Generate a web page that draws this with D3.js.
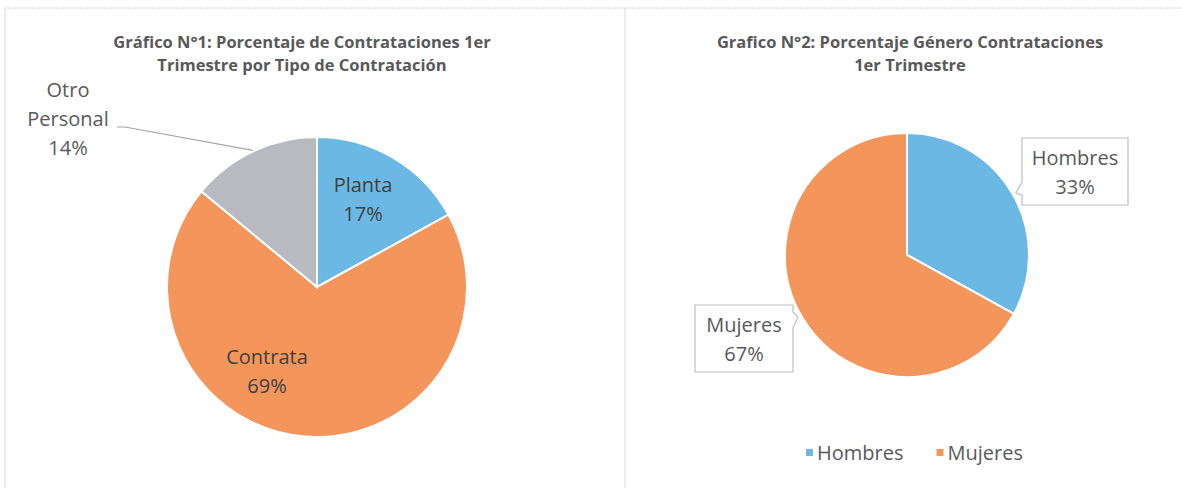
<!DOCTYPE html>
<html>
<head>
<meta charset="utf-8">
<script src="https://cdn.jsdelivr.net/npm/d3@7"></script>
<style>
  body { margin: 0; background: #fff; }
  svg { font-family: "Open Sans", "Noto Sans", sans-serif; }
</style>
</head>
<body>
<svg id="chart"></svg>
<script>
// Gráfico 1: tipo de contratación
const tipoCategorias = ["Planta", "Contrata", "Otro Personal"];
const tipoValores = [17, 69, 14];
const tipoColores = ["#6cb8e4", "#f4955c", "#b8b9c1"];

// Gráfico 2: género
const generoCategorias = ["Hombres", "Mujeres"];
const generoValores = [33, 67];
const generoColores = ["#6cb8e4", "#f4955c"];

const titulo1 = ["Gráfico N°1: Porcentaje de Contrataciones 1er", "Trimestre por Tipo de Contratación"];
const titulo2 = ["Grafico N°2: Porcentaje Género Contrataciones", "1er Trimestre"];

const W = 1182, H = 488;
const svg = d3.select("#chart").attr("width", W).attr("height", H);

// panel frames
svg.append("line").attr("x1", 5).attr("x2", W).attr("y1", 8).attr("y2", 8)
  .attr("stroke", "#d0d0d0").attr("stroke-width", 1).attr("stroke-dasharray", "2,1");
svg.append("line").attr("x1", 5).attr("x2", 5).attr("y1", 8).attr("y2", H)
  .attr("stroke", "#d9d9d9");
svg.append("line").attr("x1", 625).attr("x2", 625).attr("y1", 8).attr("y2", H)
  .attr("stroke", "#d9d9d9");

function drawTitle(lines, cx) {
  svg.append("text")
    .attr("x", cx).attr("y", 48)
    .attr("text-anchor", "middle")
    .attr("font-size", 16.5).attr("font-weight", "bold").attr("fill", "#595959")
    .selectAll("tspan").data(lines).join("tspan")
    .attr("x", cx).attr("dy", (d, i) => i ? 23 : 0)
    .text(d => d);
}

drawTitle(titulo1, 302);
drawTitle(titulo2, 910);

const pie = d3.pie().sort(null).value(d => d.value);

// ---- Chart 1 ----
const c1 = { x: 317, y: 287, r: 150 };
const data1 = tipoCategorias.map((c, i) => ({ cat: c, value: tipoValores[i], color: tipoColores[i] }));
const arcs1 = pie(data1);
const arc1 = d3.arc().innerRadius(0).outerRadius(c1.r);
const g1 = svg.append("g").attr("transform", `translate(${c1.x},${c1.y})`);

g1.selectAll("path").data(arcs1).join("path")
  .attr("d", arc1)
  .attr("fill", d => d.data.color)
  .attr("stroke", "#fff").attr("stroke-width", 2);

// label placement (offset from centre, layout only)
const lab1 = {
  "Planta": { dx: 46, dy: -102, color: "#404040" },
  "Contrata": { dx: -50, dy: 70, color: "#404040" },
  "Otro Personal": { dx: -249, dy: -197, color: "#595959" }
};
arcs1.forEach(a => {
  const L = lab1[a.data.cat];
  const lines = a.data.cat === "Otro Personal" ? ["Otro", "Personal"] : [a.data.cat];
  lines.push(a.data.value + "%");
  g1.append("text")
    .attr("text-anchor", "middle")
    .attr("font-size", 20).attr("fill", L.color)
    .selectAll("tspan").data(lines).join("tspan")
    .attr("x", L.dx).attr("y", (d, i) => L.dy + i * 29 + 7)
    .text(d => d);
});

// leader line for Otro Personal
const otro = arcs1[2];
const edge = d3.arc().innerRadius(c1.r + 1).outerRadius(c1.r + 1).centroid(otro);
g1.append("path")
  .attr("d", d3.line()([[117 - c1.x, 127 - c1.y], [125 - c1.x, 127 - c1.y], edge]))
  .attr("fill", "none").attr("stroke", "#a6a6a6").attr("stroke-width", 1.2);

// ---- Chart 2 ----
const c2 = { x: 907, y: 255, r: 122 };
const data2 = generoCategorias.map((c, i) => ({ cat: c, value: generoValores[i], color: generoColores[i] }));
const arcs2 = pie(data2);
const arc2 = d3.arc().innerRadius(0).outerRadius(c2.r);
const g2 = svg.append("g").attr("transform", `translate(${c2.x},${c2.y})`);

g2.selectAll("path").data(arcs2).join("path")
  .attr("d", arc2)
  .attr("fill", d => d.data.color)
  .attr("stroke", "#fff").attr("stroke-width", 2);

// callout boxes (relative to centre)
const boxes = {
  "Hombres": { x: 115, y: -117, w: 106, h: 67, notch: [[115, -73], [109, -62], [115, -60]] },
  "Mujeres": { x: -212, y: 50, w: 98, h: 67, notch: [[-114, 57], [-109, 62], [-114, 73]] }
};
arcs2.forEach(a => {
  const b = boxes[a.data.cat];
  let pts;
  if (a.data.cat === "Hombres") {
    pts = [[b.x, b.y], [b.x + b.w, b.y], [b.x + b.w, b.y + b.h], [b.x, b.y + b.h], ...b.notch.slice().reverse(), [b.x, b.y]];
  } else {
    pts = [[b.x, b.y], [b.x + b.w, b.y], ...b.notch, [b.x + b.w, b.y + b.h], [b.x, b.y + b.h], [b.x, b.y]];
  }
  g2.append("path")
    .attr("d", d3.line()(pts) + "Z")
    .attr("fill", "#fff").attr("stroke", "#bfbfbf").attr("stroke-width", 1.2);
  g2.append("text")
    .attr("text-anchor", "middle")
    .attr("font-size", 20).attr("fill", "#595959")
    .selectAll("tspan").data([a.data.cat, a.data.value + "%"]).join("tspan")
    .attr("x", b.x + b.w / 2).attr("y", (d, i) => b.y + 27 + i * 29)
    .text(d => d);
});

// legend
const legend = svg.append("g").attr("transform", "translate(806,453)");
let lx = 0;
generoCategorias.forEach((c, i) => {
  legend.append("rect").attr("x", lx).attr("y", -4).attr("width", 7).attr("height", 7)
    .attr("fill", generoColores[i]);
  const t = legend.append("text").attr("x", lx + 11).attr("y", 7)
    .attr("font-size", 20).attr("fill", "#595959").text(c);
  lx += 11 + t.node().getComputedTextLength() + 33;
});
</script>
</body>
</html>
